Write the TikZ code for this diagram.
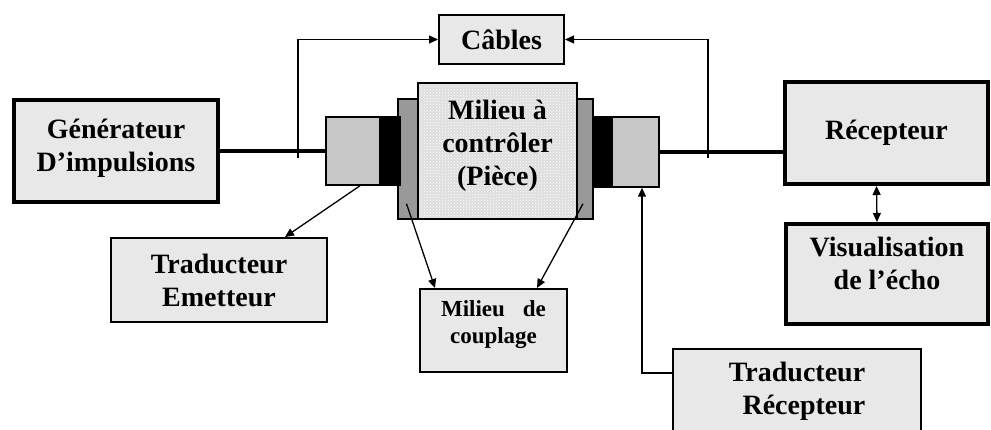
\documentclass[tikz,border=0pt]{standalone}
\usepackage{fontspec}
\setmainfont{Liberation Serif}
\usetikzlibrary{arrows.meta,calc,patterns}

\begin{document}
\begin{tikzpicture}[>={Triangle[length=9pt,width=8pt]}, x=1pt, y=-1pt,
  box/.style={draw, fill=black!9, align=center, inner sep=0pt, font=\bfseries\fontsize{28}{33}\selectfont},
  heavy/.style={box, line width=4pt},
  light/.style={box, line width=2pt},
  part/.style={draw, line width=1.5pt, inner sep=0pt},
  link/.style={line width=1.3pt}]
  \def\sink#1{\rule[-#1pt]{0pt}{#1pt}}
  \useasboundingbox (0,0) rectangle (991,430);
  \node[heavy, minimum width=204, minimum height=102] (gen) at (116,151) {Générateur\\D’impulsions\sink{12}};
  \node[light, minimum width=125, minimum height=49] (cab) at (501.5,39.5) {Câbles};
  \node[heavy, minimum width=203, minimum height=102] (rec) at (886.5,133) {Récepteur};
  \node[heavy, minimum width=202, minimum height=100] (vis) at (887,274) {Visualisation\\de l’écho\sink{22}};
  \node[light, minimum width=216, minimum height=84] (te) at (219,280) {Traducteur\\Emetteur};
  \node[light, minimum width=248, minimum height=84] (trr) at (797,391) {Traducteur\\\hspace*{14pt}Récepteur};
  \node[light, minimum width=147, minimum height=83, font=\bfseries\fontsize{23}{27}\selectfont] (mc) at (493.5,330.5) {Milieu\hspace{18pt}de\\couplage\sink{16}};
  \node[part, fill=black!40, minimum width=21, minimum height=120] (lp) at (408.5,159) {};
  \node[part, fill=black!40, minimum width=16, minimum height=120] (rp) at (585,159) {};
  \node[part, fill=black!13, postaction={pattern=crosshatch dots, pattern color=white},
    postaction={draw, line width=1.5pt},
    minimum width=159, minimum height=136, align=center,
    font=\bfseries\fontsize{28}{33}\selectfont] (pc) at (497.5,151) {Milieu à\\contrôler\\(Pièce)\sink{16}};
  \node[part, fill=black!22, minimum width=54, minimum height=68] (tl) at (353,151) {};
  \node[part, fill=black, minimum width=20, minimum height=68] (bl) at (390,151) {};
  \node[part, fill=black, minimum width=17, minimum height=70] (br) at (601.5,152) {};
  \node[part, fill=black!22, minimum width=47, minimum height=70] (tr) at (635.5,152) {};
  \draw[line width=4pt] (gen.east) -- (tl.west);
  \draw[line width=4pt] (tr.east) -- (tr.east -| rec.west);
  \coordinate (ca) at (298,158);
  \coordinate (cb) at (708,158);
  \draw[link, ->] (ca) |- (cab.west);
  \draw[link, ->] (cb) |- (cab.east);
  \draw[link, ->] ($(tl.south)+(7,0)$) -- ($(te.north)+(66,0)$);
  \draw[link, ->] ($(lp.south)+(-2,-16)$) -- ($(mc.north)+(-58.5,0)$);
  \draw[link, ->] ($(rp.south)+(-2,-16)$) -- ($(mc.north)+(43.5,0)$);
  \draw[link, ->] ($(trr.west)+(0,-18)$) -| ($(tr.south)+(6.5,0)$);
  \draw[link, <->] ($(rec.south)+(-10,0)$) -- ($(vis.north)+(-10,0)$);
\end{tikzpicture}
\end{document}
